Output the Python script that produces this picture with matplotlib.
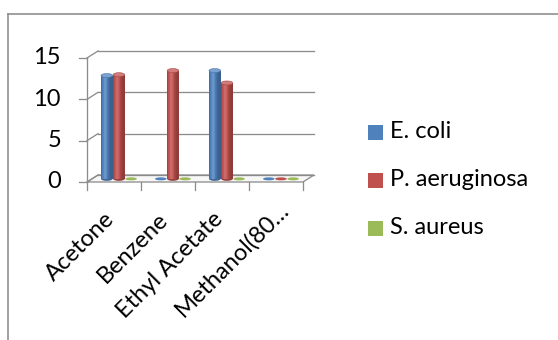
import matplotlib
matplotlib.use("Agg")
import numpy as np
import matplotlib.pyplot as plt
import matplotlib.transforms as mtransforms
from matplotlib.patches import Rectangle, Ellipse, Polygon
from matplotlib.lines import Line2D
from matplotlib.colors import to_rgb

# ---- data ----
categories = ["Acetone", "Benzene", "Ethyl Acetate", "Methanol(80\u2026"]
series_names = ["E. coli", "P. aeruginosa", "S. aureus"]
e_coli = [12.5, 0, 13.1, 0]
p_aeruginosa = [12.6, 13.1, 11.6, 0]
s_aureus = [0, 0, 0, 0]
y_ticks = [0, 5, 10, 15]
colors = ["#4F81BD", "#C0504D", "#9BBB59"]

W, H, DPI = 558, 340, 100
plt.rcParams["font.family"] = ["Lato", "DejaVu Sans"]
fig = plt.figure(figsize=(W / DPI, H / DPI), dpi=DPI)
fig.patch.set_facecolor("white")

FS = 17.0
GRID = "#8C8C8C"
LW = 1.3 * 72 / DPI

# front plane of the 3-D plot box, in pixels (y measured from top)
x_left, x_right, y_bot, y_top = 87, 303, 182, 58
ax = fig.add_axes([x_left / W, 1 - y_bot / H, (x_right - x_left) / W, (y_bot - y_top) / H])
ax.set_xlim(0, len(categories))
ax.set_ylim(0, 15)
ax.axis("off")

DX, DY = 11, 7  # depth of the box in pixels


def depth(t, dx=0, dy=0):
    return mtransforms.offset_copy(ax.transData, fig=fig, x=DX * t + dx, y=DY * t + dy, units="dots")


front = depth(0)
back = depth(1)
ident = mtransforms.IdentityTransform()
ncat = len(categories)

# floor
floor_pts = [front.transform((0, 0)), front.transform((ncat, 0)),
             back.transform((ncat, 0)), back.transform((0, 0))]
ax.add_patch(Polygon(floor_pts, closed=True, transform=ident,
                     facecolor="#F7F7F7", edgecolor=GRID, lw=LW, zorder=1, clip_on=False))

# back-wall gridlines, side-wall diagonals, value-axis ticks and labels
for v in y_ticks:
    ax.add_line(Line2D([0, ncat], [v, v], transform=back, color=GRID, lw=LW, zorder=1, clip_on=False))
    p0 = front.transform((0, v))
    p1 = back.transform((0, v))
    ax.add_line(Line2D([p0[0], p1[0]], [p0[1], p1[1]], transform=ident,
                       color=GRID, lw=LW, zorder=1, clip_on=False))
    ax.add_line(Line2D([p0[0] - 8, p0[0]], [p0[1], p0[1]], transform=ident,
                       color=GRID, lw=LW, zorder=1, clip_on=False))
    ax.text(0, v, str(v), transform=depth(0, dx=-26, dy=0), ha="right", va="center",
            fontsize=FS, color="black", clip_on=False)

# value axis line
ax.add_line(Line2D([0, 0], [0, 15], transform=front, color=GRID, lw=LW, zorder=1, clip_on=False))

# category ticks below the floor
for i in range(ncat + 1):
    q = front.transform((i, 0))
    ax.add_line(Line2D([q[0], q[0]], [q[1], q[1] - 8], transform=ident,
                       color=GRID, lw=LW, zorder=1, clip_on=False))

# category labels (the truncated last label sits a little higher/right)
label_nudge = [(0, 0), (0, 0), (0, 0), (12, 10)]
for i, name in enumerate(categories):
    nx, ny = label_nudge[i]
    ax.text(i + 0.5, 0, name, transform=depth(0, dx=-3 + nx, dy=-34 + ny), rotation=45,
            rotation_mode="anchor", ha="right", va="center", fontsize=FS, clip_on=False)

# cylinders
bar_w = 0.215
step = 0.225
mid = depth(0.45)
px_per_unit = (y_bot - y_top) / 15.0
ell_h = 4.0 / px_per_unit
flat_h = 3.0 / px_per_unit


def shade(base, f):
    c = np.array(to_rgb(base))
    if f <= 1:
        return tuple(c * f)
    return tuple(c + (1 - c) * (f - 1))


series = [e_coli, p_aeruginosa, s_aureus]
nstrip = 18
for i in range(ncat):
    for j, vals in enumerate(series):
        v = vals[i]
        cx = i + 0.5 + (j - 1) * step
        x0 = cx - bar_w / 2
        col = colors[j]
        z = 3 + i * 0.1 + j * 0.01
        if v <= 0:
            ax.add_patch(Ellipse((cx, 0), bar_w, flat_h, transform=mid, facecolor=col,
                                 edgecolor="none", zorder=z, clip_on=False))
            continue
        ax.add_patch(Ellipse((cx, 0), bar_w, ell_h, transform=mid, facecolor=shade(col, 0.8),
                             edgecolor="none", zorder=z, clip_on=False))
        for k in range(nstrip):
            u = (k + 0.5) / nstrip
            f = 0.74 + 0.42 * np.exp(-((u - 0.35) / 0.28) ** 2)
            ax.add_patch(Rectangle((x0 + k * bar_w / nstrip, 0), bar_w / nstrip * 1.08, v,
                                   transform=mid, facecolor=shade(col, f), edgecolor="none",
                                   lw=0, zorder=z + 0.001, clip_on=False))
        ax.add_patch(Ellipse((cx, v), bar_w, ell_h, transform=mid, facecolor=shade(col, 1.25),
                             edgecolor=shade(col, 0.9), lw=0.4, zorder=z + 0.002, clip_on=False))

# legend
leg_y = [132, 180, 228]
for name, col, yc in zip(series_names, colors, leg_y):
    fig.add_artist(Rectangle((368, H - yc - 7.5), 15, 15, transform=ident,
                             facecolor=col, edgecolor="none"))
    fig.text(390 / W, 1 - (yc - 1) / H, name, ha="left", va="center", fontsize=FS)

# chart frame
fig.add_artist(Line2D([8, 8], [0, H - 14], transform=ident, color="#8C8C8C", lw=1.6 * 72 / DPI))
fig.add_artist(Line2D([8, W], [H - 14, H - 14], transform=ident, color="#8C8C8C", lw=1.6 * 72 / DPI))

fig.savefig("out.png", dpi=DPI, facecolor="white")
